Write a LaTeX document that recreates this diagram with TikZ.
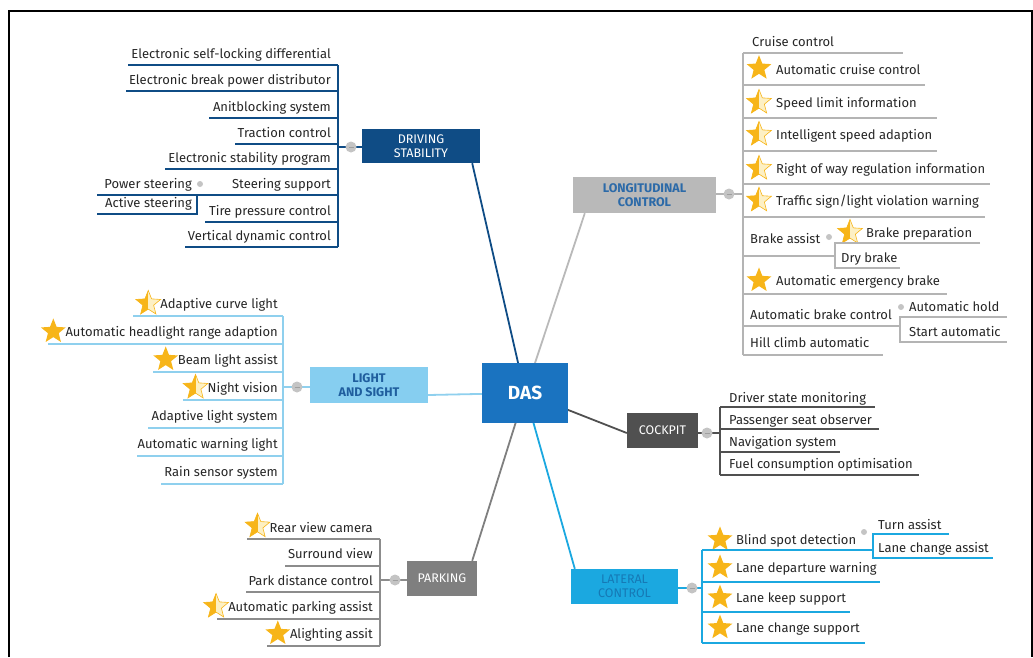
\documentclass[tikz,border=0pt]{standalone}
\usepackage{fontspec}
\setmainfont{Fira Sans}
\usetikzlibrary{shapes.geometric,calc,backgrounds}

\definecolor{dasblue}{HTML}{1A73C0}
\definecolor{dsnavy}{HTML}{0F4C85}
\definecolor{lsblue}{HTML}{86CEF0}
\definecolor{lsline}{HTML}{8FD0EE}
\definecolor{lstext}{HTML}{1F5E9E}
\definecolor{pkgray}{HTML}{7F7F7F}
\definecolor{pkline}{HTML}{8C8C8C}
\definecolor{lcgray}{HTML}{B9B9B9}
\definecolor{lcline}{HTML}{B4B4B4}
\definecolor{lctext}{HTML}{2C6AA8}
\definecolor{cpgray}{HTML}{505050}
\definecolor{ltcyan}{HTML}{1BA8E0}
\definecolor{lttext}{HTML}{1679B5}
\definecolor{stargold}{HTML}{F7B519}
\definecolor{starpale}{HTML}{FDF0C4}
\definecolor{dotgray}{HTML}{C4C4C4}
\definecolor{leaftext}{HTML}{262626}

\newcommand{\leaffont}{\fontsize{13}{14}\selectfont}
\newcommand{\branchfont}{\fontsize{12.5}{13.5}\selectfont}

\begin{document}
\begin{tikzpicture}[x=1pt,y=-1pt,
  leafL/.style={anchor=mid east,inner sep=0pt,yshift=-2.5pt,font=\leaffont,text=leaftext},
  leafR/.style={anchor=mid west,inner sep=0pt,yshift=-2.5pt,font=\leaffont,text=leaftext},
  branchbox/.style={rectangle,inner sep=0pt,align=center,font=\branchfont},
  link/.style={line width=1.8pt},
  uline/.style={line width=1.1pt},
  hubdot/.style={circle,fill=dotgray,minimum size=11pt,inner sep=0pt,
    path picture={\draw[gray!75,line width=0.8pt]
      ([xshift=-2.5pt]path picture bounding box.center) --
      ([xshift=2.5pt]path picture bounding box.center);}},
  subdot/.style={circle,fill=dotgray,minimum size=6pt,inner sep=0pt},
  fullstar/.style={star,star points=5,star point ratio=2.3,minimum size=26pt,
    inner sep=0pt,fill=stargold},
  halfstar/.style={star,star points=5,star point ratio=2.3,minimum size=26pt,
    inner sep=0pt,fill=starpale,draw=stargold,line width=0.6pt,
    path picture={\fill[stargold] (path picture bounding box.south west)
      rectangle (path picture bounding box.north);}}
]
\useasboundingbox (0,0) rectangle (1033,657);

% outer frame, open at the bottom
\draw[line width=2pt] (9,657) -- (9,11) -- (1032,11) -- (1032,657);

% ---------- central topic and main branches ----------
\node[branchbox,fill=dasblue,minimum width=86pt,minimum height=60pt,
  text=white,font=\fontsize{19}{21}\selectfont\bfseries] (das) at (525,393) {DAS};
\node[branchbox,fill=dsnavy,minimum width=118pt,minimum height=34pt,text=white]
  (ds) at (421,146) {DRIVING\\STABILITY};
\node[branchbox,fill=lsblue,minimum width=118pt,minimum height=36pt,text=lstext,
  font=\branchfont\bfseries] (ls) at (369,385) {LIGHT\\AND SIGHT};
\node[branchbox,fill=pkgray,minimum width=70pt,minimum height=35pt,text=white]
  (pk) at (442,578.5) {PARKING};
\node[branchbox,fill=lcgray,minimum width=143pt,minimum height=36pt,text=lctext,
  font=\branchfont\bfseries] (lc) at (644.5,195) {LONGITUDINAL\\CONTROL};
\node[branchbox,fill=cpgray,minimum width=71pt,minimum height=35pt,text=white]
  (cp) at (662.5,430.5) {COCKPIT};
\node[branchbox,fill=ltcyan,minimum width=107pt,minimum height=35pt,text=lttext]
  (lt) at (624.5,586.5) {LATERAL\\CONTROL};

\begin{scope}[on background layer]
  \draw[link,dsnavy] (das.center) -- ($(ds.south east)+(-8,0)$);
  \draw[link,lsline] (das.center) -- ($(ls.east)+(0,10)$);
  \draw[link,pkgray] (das.center) -- ($(pk.north east)+(-5,0)$);
  \draw[link,lcgray] (das.center) -- ($(lc.south west)+(12,0)$);
  \draw[link,cpgray] (das.center) -- ($(cp.west)+(0,2.5)$);
  \draw[link,ltcyan] (das.center) -- ($(lt.north west)+(4,0)$);
\end{scope}

% ---------- DRIVING STABILITY ----------
\coordinate (dsbar) at (338,147);
\draw[uline,dsnavy] (338,65) -- (338,247);
\foreach \n/\t/\u/\xl/\txt in {
  ds1/53.5/65/128/{Electronic self-locking differential},
  ds2/79.5/91/126/{Electronic break power distributor},
  ds3/106.5/118/209/{Anitblocking system},
  ds4/132.5/144/235/{Traction control},
  ds5/157.5/169/165/{Electronic stability program},
  ds6/183.5/195/97/{Steering support},
  ds7/210.5/222/205/{Tire pressure control},
  ds8/235.5/247/185/{Vertical dynamic control}}{
  \node[leafL] (\n) at (331,\t) {\txt};
  \draw[uline,dsnavy] (\xl,\u) -- (338,\u);
}
\node[leafL] (ps) at (192,183.5) {Power steering};
\node[leafL] (as) at (192,202.5) {Active steering};
\draw[uline,dsnavy] (197,195) -- (197,214) -- (97,214);
\node[subdot] (psdot) at (200,184) {};
\draw[uline,dsnavy] (dsbar) -- (ds.west |- dsbar);
\node[hubdot] (dshub) at (351,147) {};

% ---------- LIGHT AND SIGHT ----------
\coordinate (lsbar) at (283,387);
\draw[uline,lsline] (283,316) -- (283,484);
\foreach \n/\t/\u/\xl/\txt in {
  ls1/303/316/133/{Adaptive curve light},
  ls2/331/344/48/{Automatic headlight range adaption},
  ls3/359/372/153/{Beam light assist},
  ls4/387/400/183/{Night vision},
  ls5/415/428/148/{Adaptive light system},
  ls6/443/456/137/{Automatic warning light},
  ls7/471/484/161/{Rain sensor system}}{
  \node[leafL] (\n) at (278,\t) {\txt};
  \draw[uline,lsline] (\xl,\u) -- (283,\u);
}
\node[halfstar] at ($(ls1.west)+(-12,-1)$) {};
\node[fullstar] at ($(ls2.west)+(-12,-1)$) {};
\node[fullstar] at ($(ls3.west)+(-12,-1)$) {};
\node[halfstar] at ($(ls4.west)+(-12,-1)$) {};
\draw[uline,lsline] (lsbar) -- (ls.west |- lsbar);
\node[hubdot] (lshub) at (297,387) {};

% ---------- PARKING ----------
\coordinate (pkbar) at (380,580);
\draw[uline,pkline] (380,539) -- (380,646);
\foreach \n/\t/\u/\xl/\txt in {
  pk1/527/539/247/{Rear view camera},
  pk2/553/566/285/{Surround view},
  pk3/580/592/246/{Park distance control},
  pk4/606/619/217/{Automatic parking assist},
  pk5/633/646/267/{Alighting assit}}{
  \node[leafL] (\n) at (373,\t) {\txt};
  \draw[uline,pkline] (\xl,\u) -- (380,\u);
}
\node[halfstar] at ($(pk1.west)+(-12,-1)$) {};
\node[halfstar] at ($(pk4.west)+(-12,-1)$) {};
\node[fullstar] at ($(pk5.west)+(-12,-1)$) {};
\draw[uline,pkline] (pkbar) -- (pk.west |- pkbar);
\node[hubdot] (pkhub) at (395,580) {};

% ---------- LONGITUDINAL CONTROL ----------
\coordinate (lcbar) at (743,194);
\draw[uline,lcline] (743,53) -- (743,355);
\foreach \n/\x/\t/\u/\xr/\txt in {
  lc1/752/41/53/903/{Cruise control},
  lc2/776/69/85/925/{Automatic cruise control},
  lc3/776/102/118/937/{Speed limit information},
  lc4/776/134/151/937/{Intelligent speed adaption},
  lc5/776/168/184/990/{Right of way regulation information},
  lc6/776/200/217/985/{Traffic sign/light violation warning},
  lc7/750/238/256/835/{Brake assist},
  lc8/776/280/294/947/{Automatic emergency brake},
  lc9/750/314/326/900/{Automatic brake control},
  lc10/750/342/355/883/{Hill climb automatic}}{
  \node[leafR] (\n) at (\x,\t) {\txt};
  \draw[uline,lcline] (743,\u) -- (\xr,\u);
}
\node[fullstar] at ($(lc2.west)+(-17,-1)$) {};
\node[halfstar] at ($(lc3.west)+(-17,-1)$) {};
\node[halfstar] at ($(lc4.west)+(-17,-1)$) {};
\node[halfstar] at ($(lc5.west)+(-17,-1)$) {};
\node[halfstar] at ($(lc6.west)+(-17,-1)$) {};
\node[fullstar] at ($(lc8.west)+(-17,-1)$) {};
% brake assist children
\node[leafR] (bp) at (866,232) {Brake preparation};
\node[halfstar] at ($(bp.west)+(-16,-1)$) {};
\node[leafR] (db) at (841,257) {Dry brake};
\draw[uline,lcline] (980,243) -- (835,243) -- (835,268) -- (900,268);
\node[subdot] (badot) at (829,237) {};
% automatic brake control children
\node[leafR] (ah) at (909,306) {Automatic hold};
\node[leafR] (sa) at (909,331) {Start automatic};
\draw[uline,lcline] (1007,317) -- (900,317) -- (900,342) -- (1007,342);
\node[subdot] (abdot) at (901,307) {};
\draw[uline,lcline] (lc.east |- lcbar) -- (lcbar);
\node[hubdot] (lchub) at (729,194) {};

% ---------- COCKPIT ----------
\coordinate (cpbar) at (720,433);
\draw[uline,cpgray] (720,407) -- (720,475);
\foreach \n/\t/\u/\xr/\txt in {
  cp1/397/407/875/{Driver state monitoring},
  cp2/419/429/879/{Passenger seat observer},
  cp3/441/452/840/{Navigation system},
  cp4/463/475/919/{Fuel consumption optimisation}}{
  \node[leafR] (\n) at (729,\t) {\txt};
  \draw[uline,cpgray] (720,\u) -- (\xr,\u);
}
\draw[uline,cpgray] (cp.east |- cpbar) -- (cpbar);
\node[hubdot] (cphub) at (707,433) {};

% ---------- LATERAL CONTROL ----------
\coordinate (ltbar) at (702,588);
\draw[uline,ltcyan] (702,550) -- (702,643);
\foreach \n/\t/\u/\xr/\txt in {
  lt1/539/550/873/{Blind spot detection},
  lt2/567/582/880/{Lane departure warning},
  lt3/597/612/850/{Lane keep support},
  lt4/627/643/865/{Lane change support}}{
  \node[leafR] (\n) at (736,\t) {\txt};
  \node[fullstar] at ($(\n.west)+(-16,-1)$) {};
  \draw[uline,ltcyan] (702,\u) -- (\xr,\u);
}
\node[leafR] (ta) at (878,524) {Turn assist};
\node[leafR] (lca) at (878,547) {Lane change assist};
\draw[uline,ltcyan] (949,534) -- (873,534) -- (873,558) -- (993,558);
\node[subdot] (bsdot) at (864,532) {};
\draw[uline,ltcyan] (lt.east |- ltbar) -- (ltbar);
\node[hubdot] (lthub) at (692,588) {};

\end{tikzpicture}
\end{document}
